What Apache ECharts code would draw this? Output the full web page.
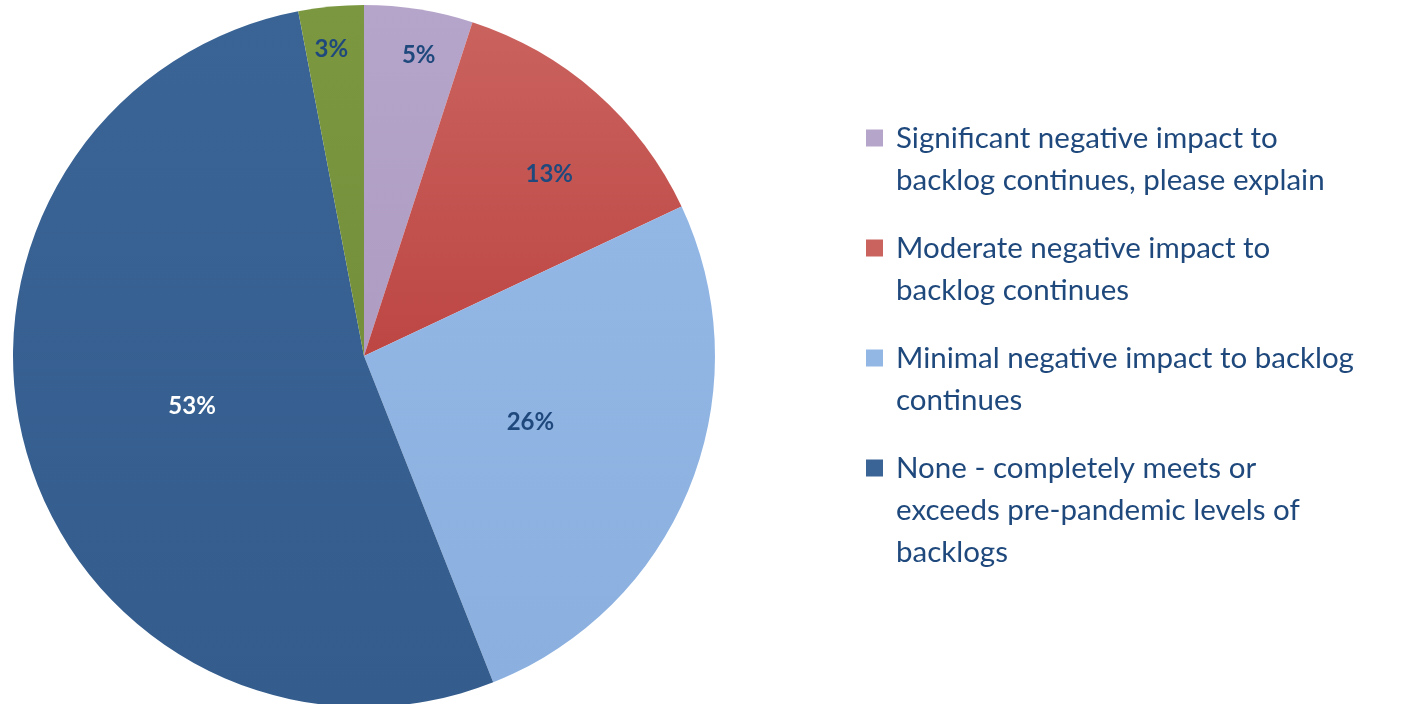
<!DOCTYPE html>
<html>
<head>
<meta charset="utf-8">
<script src="https://cdn.jsdelivr.net/npm/echarts@6/dist/echarts.min.js"></script>
<style>
  html, body { margin: 0; padding: 0; background: #ffffff; }
  #chart { width: 1409px; height: 704px; }
</style>
</head>
<body>
<div id="chart"></div>
<script>
// Survey responses: impact on backlog
const categories = [
  'Significant negative impact to backlog continues, please explain',
  'Moderate negative impact to backlog continues',
  'Minimal negative impact to backlog continues',
  'None - completely meets or exceeds pre-pandemic levels of backlogs',
  'Other'
];
const shares = [5, 13, 26, 53, 3];
const legendLines = [
  ['Significant negative impact to', 'backlog continues, please explain'],
  ['Moderate negative impact to', 'backlog continues'],
  ['Minimal negative impact to backlog', 'continues'],
  ['None - completely meets or', 'exceeds pre-pandemic levels of', 'backlogs']
];

const sliceColors = [
  ['#b6a5ca', '#ae9cc3'],
  ['#ca625e', '#bd4643'],
  ['#93b7e5', '#8bb0df'],
  ['#3a6495', '#345d8e'],
  ['#7b9840', '#758f3a']
];
const labelColors = ['#1f497d', '#1f497d', '#1f497d', '#ffffff', '#1f497d'];
// placement of each percentage: fraction of the radius and a small angular nudge (deg)
const labelRadiusFrac = [0.872, 0.74, 0.51, 0.51, 0.878];
const labelAngleNudge = [1.3, 4.1, 0, 0, -0.7];

const CX = 364, CY = 356, R = 351;
const LINE_H = 42;
const FONT = 'Lato, "Open Sans", sans-serif';

const total = shares.reduce((a, b) => a + b, 0);
const midAngles = [];
let acc = 0;
shares.forEach(v => {
  midAngles.push((acc + v / 2) / total * 2 * Math.PI);
  acc += v;
});

const pieData = categories.map((name, i) => ({
  name: name,
  value: shares[i],
  itemStyle: {
    color: new echarts.graphic.LinearGradient(0, 0, 0, 1, [
      { offset: 0, color: sliceColors[i][0] },
      { offset: 1, color: sliceColors[i][1] }
    ])
  },
  label: { color: labelColors[i] }
}));

// one legend block per category; blank leading lines keep the icon level with the first text line
const firstLineCenters = [138, 248, 358, 468];
const legends = legendLines.map((lines, i) => {
  const blanks = lines.length - 1;
  const h = (blanks + lines.length) * LINE_H;
  return {
    orient: 'vertical',
    left: 866,
    top: firstLineCenters[i] - h / 2,
    padding: 0,
    selectedMode: false,
    itemWidth: 17,
    itemHeight: 17,
    icon: 'rect',
    data: [{ name: categories[i], itemStyle: { color: sliceColors[i][0] } }],
    formatter: () => '\n'.repeat(blanks) + lines.join('\n'),
    textStyle: {
      fontFamily: FONT,
      fontSize: 29.5,
      lineHeight: LINE_H,
      color: '#1f497d',
      padding: [0, 0, 0, 8]
    }
  };
});

const chart = echarts.init(document.getElementById('chart'), null, { renderer: 'canvas' });
chart.setOption({
  animation: false,
  backgroundColor: '#ffffff',
  legend: legends,
  series: [{
    type: 'pie',
    center: [CX, CY],
    radius: [0, R],
    startAngle: 90,
    clockwise: true,
    avoidLabelOverlap: false,
    data: pieData,
    itemStyle: { borderWidth: 0 },
    label: {
      show: true,
      position: 'inside',
      formatter: '{c}%',
      fontFamily: FONT,
      fontWeight: 'bold',
      fontSize: 24
    },
    labelLine: { show: false },
    labelLayout: function (p) {
      const i = p.dataIndex;
      const a = midAngles[i] + labelAngleNudge[i] * Math.PI / 180;
      const rr = labelRadiusFrac[i] * R;
      return {
        x: CX + rr * Math.sin(a),
        y: CY - rr * Math.cos(a),
        align: 'center',
        verticalAlign: 'middle'
      };
    },
    emphasis: { disabled: true }
  }]
});
</script>
</body>
</html>
